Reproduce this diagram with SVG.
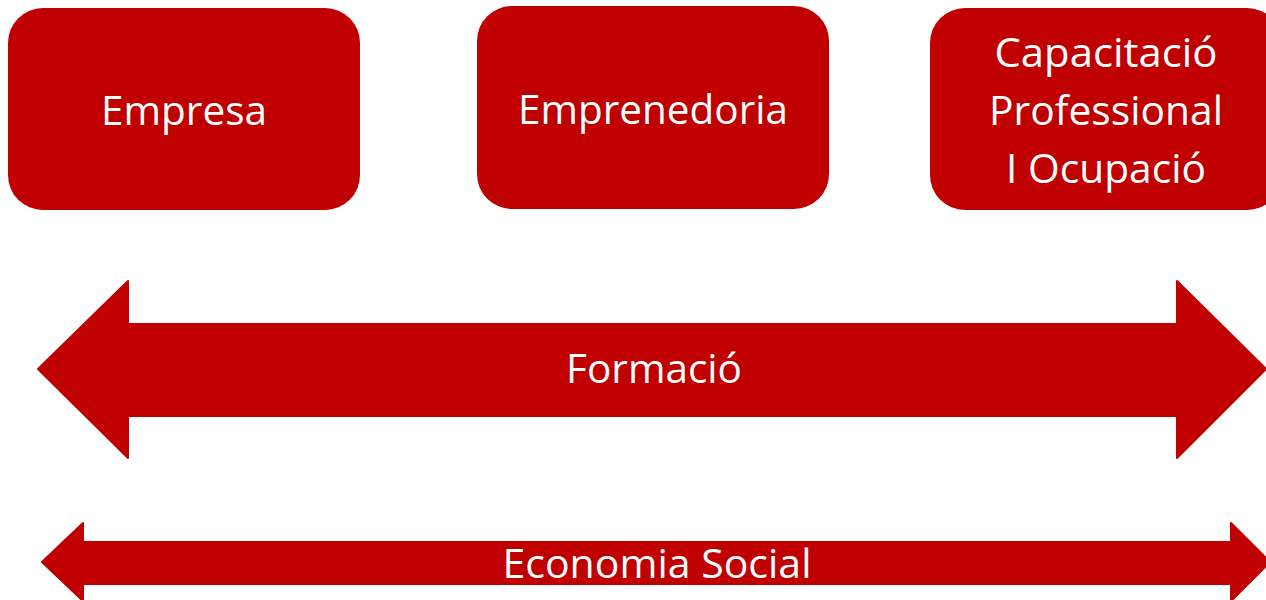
<svg xmlns="http://www.w3.org/2000/svg" width="1266" height="600" viewBox="0 0 1266 600">
<style>
.box{fill:#C00000;}
.arrow{fill:#C00000;stroke:#C00000;stroke-width:2;stroke-linejoin:round;}
.t{fill:#FFFFFF;font-family:"Open Sans","Noto Sans","Liberation Sans",sans-serif;font-size:41px;text-anchor:middle;}
</style>
<rect width="1266" height="600" fill="#FFFFFF"/>
<g id="connectors">
<g id="formacio">
<path class="arrow" d="M38,369 L128,281 L128,324 L1177,324 L1177,281 L1266,369 L1177,458 L1177,416 L128,416 L128,458 Z"/>
<text class="t" x="654" y="383" textLength="176" lengthAdjust="spacingAndGlyphs">Formació</text>
</g>
<g id="economia-social">
<path class="arrow" d="M42,562 L83,523 L83,542 L1231,542 L1231,523 L1270,562 L1231,601 L1231,584 L83,584 L83,601 Z"/>
<text class="t" x="657" y="578" textLength="309" lengthAdjust="spacingAndGlyphs">Economia Social</text>
</g>
</g>
<g id="empresa">
<rect class="box" x="8" y="8" width="352" height="202" rx="35" ry="35"/>
<text class="t" x="184" y="125" textLength="166" lengthAdjust="spacingAndGlyphs">Empresa</text>
</g>
<g id="emprenedoria">
<rect class="box" x="477" y="6" width="352" height="203" rx="35" ry="35"/>
<text class="t" x="653" y="124" textLength="270" lengthAdjust="spacingAndGlyphs">Emprenedoria</text>
</g>
<g id="capacitacio">
<rect class="box" x="930" y="8" width="352" height="202" rx="35" ry="35"/>
<text class="t" x="1106" y="67" textLength="223" lengthAdjust="spacingAndGlyphs">Capacitació</text>
<text class="t" x="1106" y="125" textLength="234" lengthAdjust="spacingAndGlyphs">Professional</text>
<text class="t" x="1106" y="183" textLength="200" lengthAdjust="spacingAndGlyphs">I Ocupació</text>
</g>
</svg>
